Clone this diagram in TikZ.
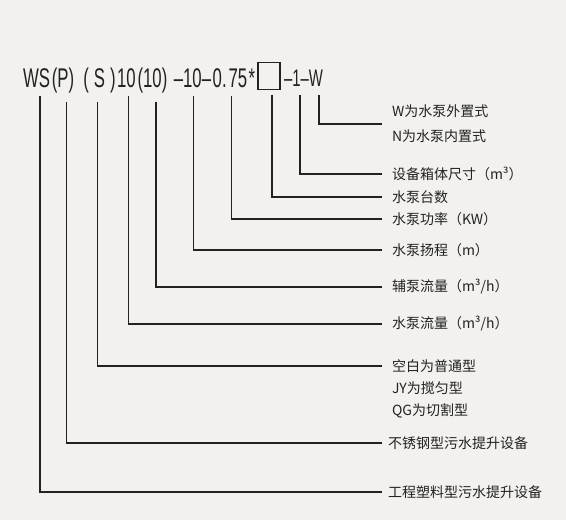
\documentclass[tikz,border=0pt]{standalone}
\usepackage{fontspec}
\newfontfamily\cjk{Noto Sans CJK SC}
\newfontfamily\codefont[FakeStretch=0.62]{Liberation Sans}
\definecolor{paper}{RGB}{242,241,239}
\definecolor{ink}{RGB}{34,34,32}
\tikzset{
  code/.style={anchor=base, inner sep=0pt, outer sep=9pt, text=ink, font=\codefont\fontsize{27}{27}\selectfont},
  codesmall/.style={code, font=\codefont\fontsize{24}{24}\selectfont},
  blank/.style={draw=ink, line width=1.4pt, minimum width=22pt, minimum height=27pt, inner sep=0pt, outer sep=5pt},
  desc/.style={anchor=west, inner sep=0pt, outer sep=10pt, text=ink, font=\cjk\fontsize{14}{25}\selectfont, align=left},
  lead/.style={draw=ink, line width=1.1pt},
}
\begin{document}
\begin{tikzpicture}[x=1pt, y=-1pt]
% Paper
\fill[paper] (0,0) rectangle (566,520);

% Model code
\node[code] (cWS) at (36.5,87) {WS};
\node[code] (cP) at (63,87) {(P)};
\node[code] (cS) at (99.5,87) {(\hspace{5pt}S\hspace{5pt})};
\node[code] (cQ) at (126.5,87) {10};
\node[code] (cQa) at (152.5,87) {(10)};
\node[code] (cH) at (192.5,87) {–10–};
\node[code] (cPw) at (230,87) {0.\hspace{2pt}75};
\node[code] (cX) at (252,87) {*};
\node[blank] (cN) at (269,76) {};
\node[codesmall] (cV) at (296.5,86) {–1–};
\node[codesmall] (cM) at (316,86) {W};

% Descriptions
\node[desc] (lM) at (382,124) {W为水泵外置式\\N为水泵内置式};
\node[desc] (lV) at (382,174) {设备箱体尺寸（m³）};
\node[desc] (lN) at (382,197) {水泵台数};
\node[desc] (lPw) at (382,219) {水泵功率（KW）};
\node[desc] (lH) at (382,250) {水泵扬程（m）};
\node[desc] (lQa) at (382,287) {辅泵流量（m³/h）};
\node[desc] (lQ) at (382,324) {水泵流量（m³/h）};
\node[desc] (lS) at (382,366) {空白为普通型};
\node[desc] (lJY) at (382,388) {JY为搅匀型};
\node[desc] (lQG) at (382,411) {QG为切割型};
\node[desc, outer sep=6pt] (lP) at (382,443) {不锈钢型污水提升设备};
\node[desc, outer sep=6pt] (lWS) at (382,492) {工程塑料型污水提升设备};

% Leaders
\draw[lead] ([xshift=3pt]cM.south) |- (lM.west);
\draw[lead] ([xshift=3.5pt]cV.south) |- (lV.west);
\draw[lead] ([xshift=3pt]cN.south) |- (lN.west);
\draw[lead] ([xshift=1.3pt]cPw.south) |- (lPw.west);
\draw[lead] ([xshift=1pt]cH.south) |- (lH.west);
\draw[lead] ([xshift=3.5pt]cQa.south) |- (lQa.west);
\draw[lead] ([xshift=2pt]cQ.south) |- (lQ.west);
\draw[lead] ([xshift=-2pt]cS.south) |- (lS.west);
\draw[lead] ([xshift=3.7pt]cP.south) |- (lP.west);
\draw[lead] ([xshift=3.5pt]cWS.south) |- (lWS.west);
\end{tikzpicture}
\end{document}
